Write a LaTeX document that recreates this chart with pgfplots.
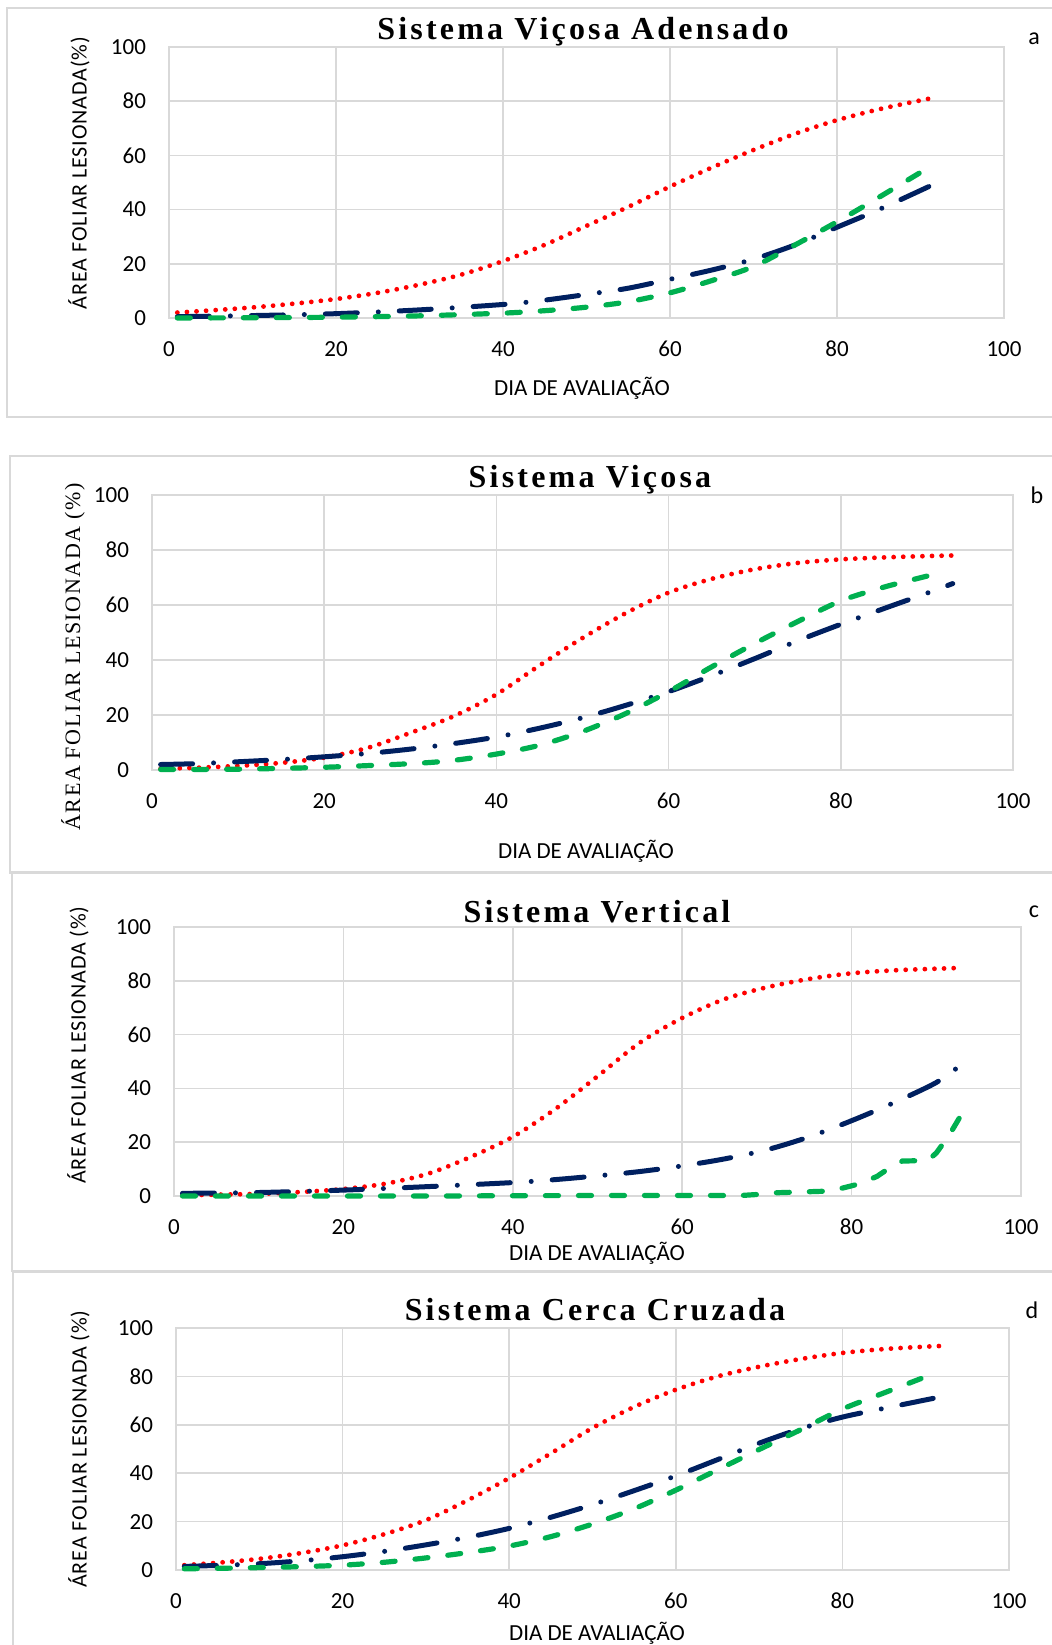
\documentclass[border=0pt]{standalone}
\usepackage{fontspec}
\setmainfont{Carlito}
\newfontfamily\titlefont[LetterSpace=10]{Liberation Serif}
\newfontfamily\serifylab[LetterSpace=7]{Liberation Serif}
\newfontfamily\sansylab[LetterSpace=4]{Carlito}
\usepackage{pgfplots}
\pgfplotsset{compat=1.18}
\definecolor{gridc}{HTML}{D9D9D9}
\definecolor{navy}{HTML}{002060}
\definecolor{grn}{HTML}{00B050}
\pgfplotsset{
  panel/.style={
    scale only axis, anchor=south west,
    xmin=0, xmax=100, ymin=0, ymax=100,
    xtick={0,20,...,100}, ytick={0,20,...,100},
    grid=major, major grid style={gridc, line width=0.8pt},
    axis line style={gridc, line width=0.8pt},
    major tick length=0pt,
    tick label style={font=\fontsize{11.5}{13}\selectfont, black},
    /pgf/number format/assume math mode=true,
    xticklabel style={anchor=center, yshift=-15.5pt},
    yticklabel style={anchor=east, xshift=-8pt},
    clip=false,
  },
  redl/.style={red, line width=2.4pt, line cap=round, dash pattern=on 0pt off 4.8pt, smooth, no markers},
  navyl/.style={navy, line width=2.5pt, line cap=round, dash pattern=on 16pt off 10.5pt on 0pt off 10.5pt, smooth, no markers},
  grnl/.style={grn, line width=2.6pt, line cap=round, dash pattern=on 6.5pt off 10pt, smooth, no markers},
}
\begin{document}
\begin{tikzpicture}
\path[use as bounding box] (0,0) rectangle (526pt,-822.5pt);
% frames
\draw[gridc, line width=1pt] (3.5pt,-4pt) rectangle (530pt,-208.5pt);
\draw[gridc, line width=1pt] (5pt,-228pt) rectangle (530pt,-436.5pt);
\draw[gridc, line width=1pt] (6pt,-436pt) rectangle (530pt,-635.5pt);
\draw[gridc, line width=1pt] (6.5pt,-636pt) rectangle (530pt,-830pt);

% ---------- panel a ----------
\begin{axis}[panel, at={(84.5pt,-159pt)}, width=417.5pt, height=135.5pt]
\addplot[redl] coordinates {(1,2) (5,2.8) (10,3.9) (15,5.3) (20,7) (25,9.3) (30,12.3) (35,16) (40,21) (45,27) (50,34) (55,41) (60,48.5) (65,55.5) (70,62) (75,68) (80,73) (85,77) (90,80.3) (92,81.5)};
\addplot[navyl] coordinates {(1,0.5) (10,0.9) (20,1.6) (30,3) (40,5) (45,6.6) (50,8.7) (55,11) (60,14.3) (65,17.7) (70,21.7) (75,27) (80,33.5) (85,40) (91,48.5)};
\addplot[grnl] coordinates {(1,0) (10,0.1) (20,0.3) (30,0.8) (40,1.8) (45,2.7) (50,4) (55,6) (60,9.3) (65,13.8) (70,19) (75,27) (80,35.5) (85,44.5) (91.5,56.5)};
\end{axis}
\node[font=\titlefont\bfseries\fontsize{16}{18}\selectfont] at (291.5pt,-16pt) {Sistema Viçosa Adensado};
\node[font=\fontsize{12}{14}\selectfont] at (517pt,-19.5pt) {a};
\node[rotate=90, font=\sansylab\fontsize{11}{13}\selectfont] at (39.5pt,-86.5pt) {ÁREA FOLIAR LESIONADA(\%)};
\node[font=\fontsize{11.5}{13}\selectfont] at (291pt,-194pt) {DIA DE AVALIAÇÃO};

% ---------- panel b ----------
\begin{axis}[panel, at={(76pt,-385pt)}, width=430.5pt, height=137.5pt]
\addplot[redl] coordinates {(1,0.5) (5,0.8) (10,1.5) (15,2.6) (20,4.5) (25,8) (30,13.5) (35,19.5) (40,27.5) (45,38) (50,48) (55,57) (60,64.5) (65,69.5) (70,73) (75,75.3) (80,76.6) (85,77.3) (90,77.8) (93,78)};
\addplot[navyl] coordinates {(1,2) (5,2.3) (10,3) (15,3.8) (20,4.8) (25,6) (30,7.6) (35,9.6) (40,12) (45,15.2) (50,19) (55,23.5) (60,28.5) (65,34.3) (70,40.5) (75,47) (80,53) (85,58.7) (90,64.3) (93,67.8)};
\addplot[grnl] coordinates {(1,0.2) (10,0.3) (20,1) (30,2.3) (35,3.5) (40,5.8) (45,9) (50,14) (55,20.5) (60,28.5) (65,37.5) (70,46) (75,54) (80,61.5) (85,66.5) (90,70.5) (92,72)};
\end{axis}
\node[font=\titlefont\bfseries\fontsize{16}{18}\selectfont] at (295pt,-240pt) {Sistema Viçosa};
\node[font=\fontsize{12}{14}\selectfont] at (518.5pt,-247.5pt) {b};
\node[rotate=90, font=\serifylab\fontsize{11}{13}\selectfont] at (36.5pt,-328.5pt) {ÁREA FOLIAR LESIONADA (\%)};
\node[font=\fontsize{11.5}{13}\selectfont] at (293pt,-425.5pt) {DIA DE AVALIAÇÃO};

% ---------- panel c ----------
\begin{axis}[panel, at={(87pt,-598pt)}, width=423.5pt, height=134.5pt]
\addplot[redl] coordinates {(1,0.3) (5,0.5) (10,0.8) (15,1.5) (20,2.6) (25,4.6) (30,8.3) (35,14.5) (40,22) (45,32.3) (50,44.5) (55,57) (60,66.2) (65,73.2) (70,77.6) (75,80.7) (80,82.8) (85,83.9) (90,84.5) (93,84.8)};
\addplot[navyl] coordinates {(1,1) (10,1.3) (20,2.2) (30,3.5) (40,5) (45,6.1) (50,7.5) (55,9.1) (60,11.2) (65,13.8) (70,17.2) (75,22) (80,28) (85,34.7) (90,42.2) (93,49)};
\addplot[grnl, sharp plot] coordinates {(1,0) (10,0) (20,0) (30,0) (40,0.1) (50,0.2) (60,0.2) (67,0.2) (69,0.6) (71,1.2) (74,1.5) (77,1.8) (79,3) (81,4.6) (83,7.3) (84.5,10.5) (86,13) (89,13.2) (90,16) (91.5,22.5) (93,30.5)};
\end{axis}
\node[font=\titlefont\bfseries\fontsize{16}{18}\selectfont] at (298.5pt,-456pt) {Sistema Vertical};
\node[font=\fontsize{12}{14}\selectfont] at (517pt,-456pt) {c};
\node[rotate=90, font=\sansylab\fontsize{11}{13}\selectfont] at (39pt,-522.5pt) {ÁREA FOLIAR LESIONADA (\%)};
\node[font=\fontsize{11.5}{13}\selectfont] at (298.5pt,-626.5pt) {DIA DE AVALIAÇÃO};

% ---------- panel d ----------
\begin{axis}[panel, at={(88pt,-785pt)}, width=416.5pt, height=121pt]
\addplot[redl] coordinates {(1,2) (5,3) (10,4.6) (15,7) (20,10.2) (25,14.8) (30,20.6) (35,28.8) (40,38) (45,48.2) (50,58.7) (55,67.4) (60,74.5) (65,80) (70,84) (75,87.2) (80,89.7) (85,91.3) (90,92.3) (92,92.6)};
\addplot[navyl] coordinates {(1,1.5) (5,1.9) (10,2.6) (15,3.8) (20,5.5) (25,7.7) (30,10.4) (35,13.5) (40,17.2) (45,21.8) (50,27) (55,32.8) (60,38.9) (65,45.6) (70,52.4) (75,58.4) (80,63.2) (85,66.8) (91,71)};
\addplot[grnl] coordinates {(1,0.5) (5,0.7) (10,1) (15,1.4) (20,2) (25,3.2) (30,5) (35,7.2) (40,9.9) (45,13.8) (50,19) (55,25.3) (60,33) (65,41.4) (70,49.8) (75,58) (80,66.5) (85,73.2) (91,81.2)};
\end{axis}
\node[font=\titlefont\bfseries\fontsize{16}{18}\selectfont] at (297.5pt,-655pt) {Sistema Cerca Cruzada};
\node[font=\fontsize{12}{14}\selectfont] at (516pt,-655pt) {d};
\node[rotate=90, font=\sansylab\fontsize{11}{13}\selectfont] at (39.5pt,-724.5pt) {ÁREA FOLIAR LESIONADA (\%)};
\node[font=\fontsize{11.5}{13}\selectfont] at (298.5pt,-816.5pt) {DIA DE AVALIAÇÃO};
\end{tikzpicture}
\end{document}
